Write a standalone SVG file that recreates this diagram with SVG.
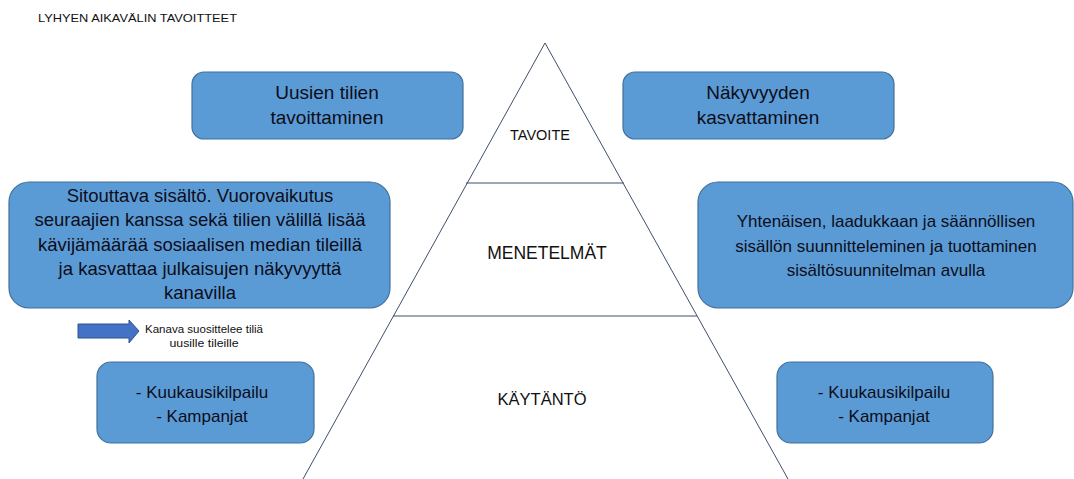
<svg xmlns="http://www.w3.org/2000/svg" width="1074" height="479" viewBox="0 0 1074 479">
<style>
.box{fill:#5B9BD5;stroke:#41719C;stroke-width:1.2}
.bt{font-family:"Liberation Sans",Arial,sans-serif;fill:#0d0d1a;text-anchor:middle}
.s17{font-size:17px}
.s185{font-size:18.5px}
.s19{font-size:19px}
.lbl{font-family:"Liberation Sans",Arial,sans-serif;fill:#111;text-anchor:middle}
.pl{stroke:#3E4F6B;stroke-width:1;fill:none}
</style>
<rect width="1074" height="479" fill="#fff"/>
<text x="38" y="22" font-family="Liberation Sans,Arial,sans-serif" font-size="11" fill="#111" textLength="199" lengthAdjust="spacingAndGlyphs">LYHYEN AIKAVÄLIN TAVOITTEET</text>
<g id="pyramid">
<polyline class="pl" points="303,479 545,43 788,479"/>
<line class="pl" x1="466" y1="183" x2="624" y2="183"/>
<line class="pl" x1="393" y1="316" x2="697" y2="316"/>
<text class="lbl" x="540" y="140" font-size="14.5">TAVOITE</text>
<text class="lbl" x="547" y="259" font-size="17.5">MENETELMÄT</text>
<text class="lbl" x="542" y="405" font-size="16.5">KÄYTÄNTÖ</text>
</g>
<g id="n1">
<rect class="box" x="192" y="72" width="271" height="67" rx="12"/>
<text class="bt s19" x="327" y="99">Uusien tilien</text>
<text class="bt s19" x="327" y="124">tavoittaminen</text>
</g>
<g id="n2">
<rect class="box" x="623" y="72" width="271" height="67" rx="12"/>
<text class="bt s19" x="758" y="99">Näkyvyyden</text>
<text class="bt s19" x="758" y="124">kasvattaminen</text>
</g>
<g id="n3">
<rect class="box" x="9" y="182" width="381" height="126" rx="20"/>
<text class="bt s185" x="200" y="202">Sitouttava sisältö. Vuorovaikutus</text>
<text class="bt s185" x="200" y="226">seuraajien kanssa sekä tilien välillä lisää</text>
<text class="bt s185" x="200" y="251">kävijämäärää sosiaalisen median tileillä</text>
<text class="bt s185" x="200" y="275">ja kasvattaa julkaisujen näkyvyyttä</text>
<text class="bt s185" x="200" y="299">kanavilla</text>
</g>
<g id="n4">
<rect class="box" x="698" y="182" width="375" height="126" rx="20"/>
<text class="bt s17" x="886" y="227">Yhtenäisen, laadukkaan ja säännöllisen</text>
<text class="bt s17" x="886" y="252">sisällön suunnitteleminen ja tuottaminen</text>
<text class="bt s17" x="886" y="276">sisältösuunnitelman avulla</text>
</g>
<g id="n5">
<rect class="box" x="97" y="362" width="217" height="81" rx="14"/>
<text class="bt s17" x="202" y="398">- Kuukausikilpailu</text>
<text class="bt s17" x="202" y="422">- Kampanjat</text>
</g>
<g id="n6">
<rect class="box" x="777" y="362" width="216" height="81" rx="14"/>
<text class="bt s17" x="884" y="398">- Kuukausikilpailu</text>
<text class="bt s17" x="884" y="422">- Kampanjat</text>
</g>
<g id="connectors">
<polygon points="78,324 129,324 129,320 139,331 129,343 129,338 78,338" fill="#4472C4" stroke="#2F528F" stroke-width="1"/>
<text class="lbl" x="204" y="333" font-size="11" textLength="118" lengthAdjust="spacingAndGlyphs">Kanava suosittelee tiliä</text>
<text class="lbl" x="204" y="347" font-size="11" textLength="69" lengthAdjust="spacingAndGlyphs">uusille tileille</text>
</g>
</svg>
